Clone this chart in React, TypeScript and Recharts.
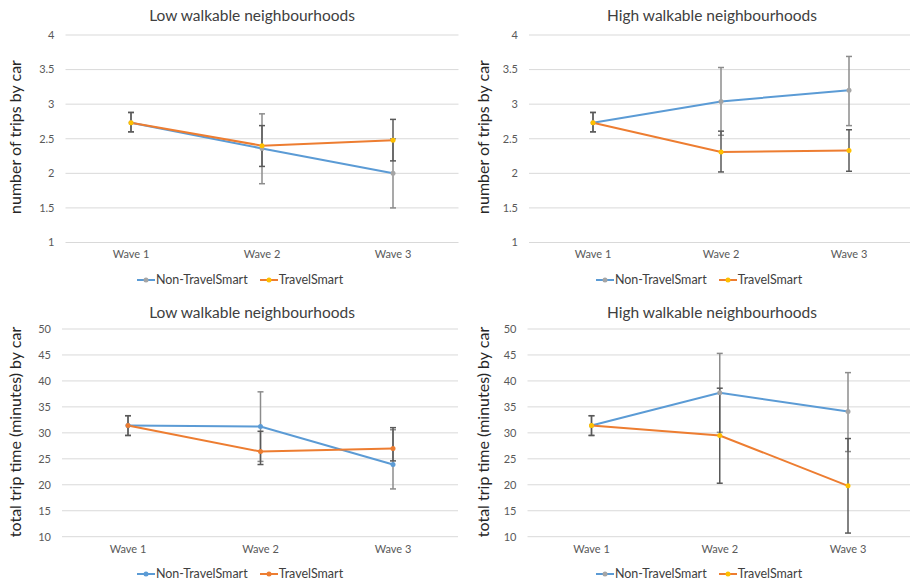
import { LineChart, Line, XAxis, YAxis, CartesianGrid, ErrorBar, Legend } from 'recharts';

const waves = ['Wave 1', 'Wave 2', 'Wave 3'];

const tripTicks = [1, 1.5, 2, 2.5, 3, 3.5, 4];
const timeTicks = [10, 15, 20, 25, 30, 35, 40, 45, 50];

// number of trips by car – low walkable
const tripsLowNon = [2.73, 2.36, 2.0];
const tripsLowNonLo = [2.6, 1.85, 1.5];
const tripsLowNonHi = [2.88, 2.86, 2.5];
const tripsLowTs = [2.73, 2.4, 2.48];
const tripsLowTsLo = [2.6, 2.1, 2.18];
const tripsLowTsHi = [2.88, 2.69, 2.78];

// number of trips by car – high walkable
const tripsHighNon = [2.73, 3.04, 3.2];
const tripsHighNonLo = [2.6, 2.55, 2.69];
const tripsHighNonHi = [2.88, 3.53, 3.69];
const tripsHighTs = [2.73, 2.31, 2.33];
const tripsHighTsLo = [2.6, 2.02, 2.03];
const tripsHighTsHi = [2.88, 2.61, 2.63];

// total trip time – low walkable
const timeLowNon = [31.4, 31.2, 23.9];
const timeLowNonLo = [29.5, 24.5, 19.2];
const timeLowNonHi = [33.3, 37.9, 30.6];
const timeLowTs = [31.4, 26.4, 27.0];
const timeLowTsLo = [29.5, 23.9, 24.6];
const timeLowTsHi = [33.3, 30.3, 31.0];

// total trip time – high walkable
const timeHighNon = [31.4, 37.7, 34.1];
const timeHighNonLo = [29.5, 30.1, 26.4];
const timeHighNonHi = [33.3, 45.3, 41.6];
const timeHighTs = [31.4, 29.5, 19.8];
const timeHighTsLo = [29.5, 20.3, 10.7];
const timeHighTsHi = [33.3, 38.6, 28.9];

const FONT = "Lato, 'Open Sans', sans-serif";
const BLUE = '#5B9BD5';
const ORANGE = '#ED7D31';
const GRAY = '#A5A5A5';
const YELLOW = '#FFC000';

function buildRows(non: number[], nonLo: number[], nonHi: number[], ts: number[], tsLo: number[], tsHi: number[]) {
  return waves.map((w, i) => ({
    wave: w,
    non: non[i],
    nonErr: [non[i] - nonLo[i], nonHi[i] - non[i]],
    ts: ts[i],
    tsErr: [ts[i] - tsLo[i], tsHi[i] - ts[i]],
  }));
}

interface PanelProps {
  x: number;
  y: number;
  height: number;
  plotLeft: number;
  plotRight: number;
  plotTop: number;
  plotBottom: number;
  pad: [number, number];
  title: string;
  titleX: number;
  titleY: number;
  yLabel: string;
  yLabelX: number;
  yLabelY: number;
  legendX: number;
  legendY: number;
  ticks: number[];
  rows: ReturnType<typeof buildRows>;
  nonMarker: string;
  tsMarker: string;
}

const WIDTH = 460;

function Panel(p: PanelProps) {
  const markers: Record<string, string> = { non: p.nonMarker, ts: p.tsMarker };
  const margin = {
    left: p.plotLeft - 30,
    right: WIDTH - p.plotRight,
    top: p.plotTop,
    bottom: p.height - p.plotBottom - 20,
  };
  const renderLegend = (props: any) => (
    <div
      style={{
        display: 'flex',
        justifyContent: 'center',
        alignItems: 'center',
        gap: 12,
        fontFamily: FONT,
        fontSize: 12.5,
        color: '#404040',
        height: 16,
        lineHeight: '16px',
      }}
    >
      {(props.payload || []).map((e: any) => (
        <div key={e.value} style={{ display: 'flex', alignItems: 'center' }}>
          <svg width={18} height={8} style={{ marginRight: 1 }}>
            <line x1={0} y1={4} x2={18} y2={4} stroke={e.color} strokeWidth={2} />
            <circle cx={9} cy={4} r={2.5} fill={markers[e.dataKey]} />
          </svg>
          <span>{e.value}</span>
        </div>
      ))}
    </div>
  );
  return (
    <div style={{ position: 'absolute', left: p.x, top: p.y }}>
      <LineChart width={WIDTH} height={p.height} data={p.rows} margin={margin}>
        <CartesianGrid vertical={false} stroke="#D9D9D9" />
        <XAxis
          dataKey="wave"
          axisLine={false}
          tickLine={false}
          padding={{ left: p.pad[0], right: p.pad[1] }}
          height={20}
          tick={{ fill: '#595959', fontSize: 11, fontFamily: FONT }}
        />
        <YAxis
          width={30}
          domain={[p.ticks[0], p.ticks[p.ticks.length - 1]]}
          ticks={p.ticks}
          axisLine={false}
          tickLine={false}
          tickMargin={5}
          tick={{ fill: '#595959', fontSize: 11, fontFamily: FONT }}
        />
        <Legend
          layout="horizontal"
          verticalAlign="middle"
          align="center"
          wrapperStyle={{ left: p.legendX - 150, top: p.legendY - 8, width: 300, height: 16 }}
          content={renderLegend}
        />
        <Line
          dataKey="non"
          name="Non-TravelSmart"
          stroke={BLUE}
          strokeWidth={2}
          dot={{ r: 2.5, fill: p.nonMarker, stroke: p.nonMarker, strokeWidth: 0 }}
          isAnimationActive={false}
        >
          <ErrorBar dataKey="nonErr" direction="y" width={3} stroke="#8C8C8C" strokeWidth={1.5} />
        </Line>
        <Line
          dataKey="ts"
          name="TravelSmart"
          stroke={ORANGE}
          strokeWidth={2}
          dot={{ r: 2.5, fill: p.tsMarker, stroke: p.tsMarker, strokeWidth: 0 }}
          isAnimationActive={false}
        >
          <ErrorBar dataKey="tsErr" direction="y" width={3} stroke="#595959" strokeWidth={1.5} />
        </Line>
        <text x={p.titleX} y={p.titleY} textAnchor="middle" fontFamily={FONT} fontSize={15.5} fill="#404040">
          {p.title}
        </text>
        <text
          x={p.yLabelX}
          y={p.yLabelY}
          transform={`rotate(-90 ${p.yLabelX} ${p.yLabelY})`}
          textAnchor="middle"
          dominantBaseline="central"
          fontFamily={FONT}
          fontSize={16}
          fill="#262626"
        >
          {p.yLabel}
        </text>
      </LineChart>
    </div>
  );
}

export default function App() {
  const tripsLow = buildRows(tripsLowNon, tripsLowNonLo, tripsLowNonHi, tripsLowTs, tripsLowTsLo, tripsLowTsHi);
  const tripsHigh = buildRows(tripsHighNon, tripsHighNonLo, tripsHighNonHi, tripsHighTs, tripsHighTsLo, tripsHighTsHi);
  const timeLow = buildRows(timeLowNon, timeLowNonLo, timeLowNonHi, timeLowTs, timeLowTsLo, timeLowTsHi);
  const timeHigh = buildRows(timeHighNon, timeHighNonLo, timeHighNonHi, timeHighTs, timeHighTsLo, timeHighTsHi);

  return (
    <div
      style={{
        position: 'absolute',
        left: 0,
        top: 0,
        width: 910,
        height: 582,
        overflow: 'hidden',
        background: '#fff',
      }}
    >
      <Panel
        x={0}
        y={0}
        height={290}
        plotLeft={65.5}
        plotRight={458.5}
        plotTop={35}
        plotBottom={242.5}
        pad={[65.5, 65.5]}
        title="Low walkable neighbourhoods"
        titleX={252}
        titleY={21}
        yLabel="number of trips by car"
        yLabelX={14}
        yLabelY={137}
        legendX={240}
        legendY={280}
        ticks={tripTicks}
        rows={tripsLow}
        nonMarker={GRAY}
        tsMarker={YELLOW}
      />
      <Panel
        x={455}
        y={0}
        height={290}
        plotLeft={74}
        plotRight={458}
        plotTop={35}
        plotBottom={242.5}
        pad={[64, 64]}
        title="High walkable neighbourhoods"
        titleX={257}
        titleY={21}
        yLabel="number of trips by car"
        yLabelX={27}
        yLabelY={137}
        legendX={244}
        legendY={280}
        ticks={tripTicks}
        rows={tripsHigh}
        nonMarker={GRAY}
        tsMarker={YELLOW}
      />
      <Panel
        x={0}
        y={290}
        height={292}
        plotLeft={62}
        plotRight={458}
        plotTop={39}
        plotBottom={246.7}
        pad={[66, 65]}
        title="Low walkable neighbourhoods"
        titleX={252}
        titleY={28}
        yLabel="total trip time (minutes) by car"
        yLabelX={14}
        yLabelY={142}
        legendX={240}
        legendY={284}
        ticks={timeTicks}
        rows={timeLow}
        nonMarker={BLUE}
        tsMarker={ORANGE}
      />
      <Panel
        x={455}
        y={290}
        height={292}
        plotLeft={72.5}
        plotRight={457}
        plotTop={39}
        plotBottom={246.7}
        pad={[64, 64]}
        title="High walkable neighbourhoods"
        titleX={257}
        titleY={28}
        yLabel="total trip time (minutes) by car"
        yLabelX={27}
        yLabelY={142}
        legendX={244}
        legendY={284}
        ticks={timeTicks}
        rows={timeHigh}
        nonMarker={GRAY}
        tsMarker={YELLOW}
      />
    </div>
  );
}
